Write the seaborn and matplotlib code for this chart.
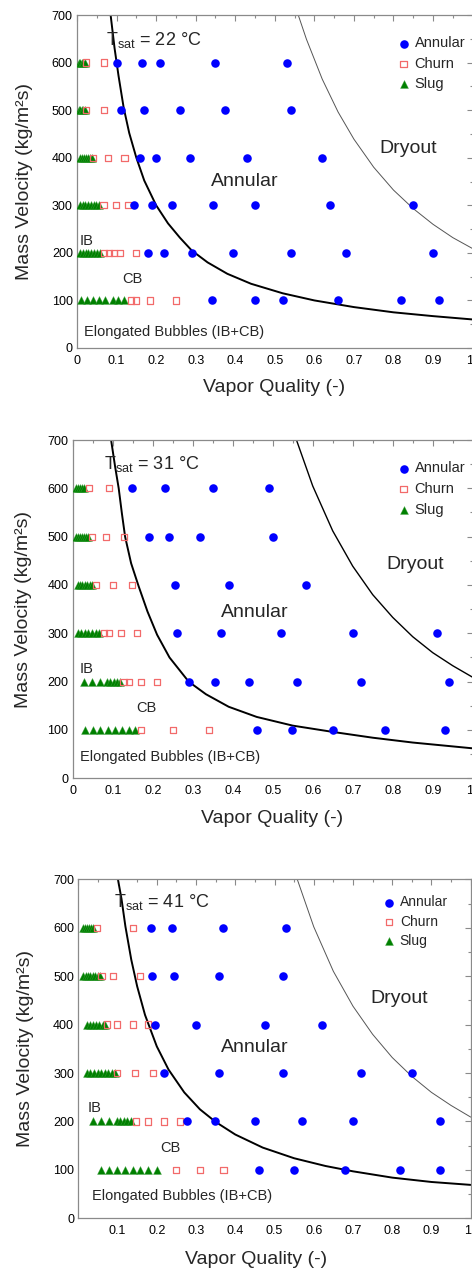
import numpy as np
import pandas as pd
import matplotlib
matplotlib.use("Agg")
import matplotlib.pyplot as plt
from matplotlib.ticker import MultipleLocator, FuncFormatter
import seaborn as sns

# ------------------------------------------------------------------ data
# Mass velocity rows (kg/m2s) -> vapor qualities of observed points
T22_ANNULAR = {600: [0.10, 0.165, 0.21, 0.35, 0.53],
               500: [0.11, 0.17, 0.26, 0.375, 0.54],
               400: [0.16, 0.199, 0.285, 0.43, 0.62],
               300: [0.145, 0.19, 0.24, 0.344, 0.45, 0.64, 0.85],
               200: [0.18, 0.22, 0.29, 0.395, 0.54, 0.68, 0.90],
               100: [0.34, 0.45, 0.52, 0.66, 0.82, 0.914]}
T22_CHURN = {600: [0.023, 0.069],
             500: [0.023, 0.069],
             400: [0.04, 0.079, 0.12],
             300: [0.067, 0.099, 0.129],
             200: [0.068, 0.08, 0.093, 0.108, 0.149],
             100: [0.136, 0.15, 0.185, 0.25]}
T22_SLUG = {600: [0.004, 0.008, 0.012, 0.016, 0.020],
            500: [0.004, 0.008, 0.012, 0.016, 0.020],
            400: [0.008, 0.013, 0.018, 0.023, 0.028, 0.033, 0.038],
            300: [0.007, 0.014, 0.021, 0.028, 0.035, 0.042, 0.049, 0.056],
            200: [0.008, 0.015, 0.022, 0.029, 0.036, 0.043, 0.050, 0.057],
            100: [0.011, 0.026, 0.041, 0.056, 0.072, 0.09, 0.104, 0.12]}
T22_ANN_X = [0.085, 0.095, 0.105, 0.118, 0.132, 0.15, 0.17, 0.2, 0.23, 0.26,
             0.29, 0.33, 0.38, 0.44, 0.52, 0.6, 0.7, 0.8, 0.9, 1.0]
T22_ANN_G = [700, 630, 572, 505, 452, 400, 352, 300, 262, 232,
             205, 180, 156, 135, 115, 100, 86, 75, 67, 60]
T22_DRY_X = [0.556, 0.58, 0.62, 0.66, 0.7, 0.75, 0.8, 0.85, 0.9, 0.95, 1.0]
T22_DRY_G = [708, 649, 565, 496, 439, 380, 332, 293, 260, 232, 209]

T31_ANNULAR = {600: [0.149, 0.23, 0.35, 0.491],
               500: [0.19, 0.24, 0.319, 0.501],
               400: [0.256, 0.39, 0.582],
               300: [0.26, 0.371, 0.521, 0.701, 0.911],
               200: [0.29, 0.355, 0.44, 0.56, 0.721, 0.94],
               100: [0.461, 0.549, 0.651, 0.78, 0.931]}
T31_CHURN = {600: [0.04, 0.091],
             500: [0.048, 0.084, 0.129],
             400: [0.059, 0.10, 0.149],
             300: [0.078, 0.091, 0.121, 0.16],
             200: [0.127, 0.14, 0.171, 0.21],
             100: [0.171, 0.25, 0.34]}
T31_SLUG = {600: [0.008, 0.013, 0.018, 0.023, 0.028],
            500: [0.008, 0.013, 0.018, 0.023, 0.028, 0.033, 0.038],
            400: [0.012, 0.018, 0.024, 0.030, 0.036, 0.042, 0.048],
            300: [0.012, 0.021, 0.030, 0.039, 0.048, 0.057, 0.066],
            200: [0.027, 0.048, 0.069, 0.086, 0.094, 0.102, 0.110, 0.118],
            100: [0.03, 0.05, 0.069, 0.088, 0.106, 0.123, 0.14, 0.156]}
T31_ANN_X = [0.096, 0.106, 0.115, 0.123, 0.131, 0.146, 0.165, 0.187, 0.211, 0.242,
             0.29, 0.333, 0.39, 0.46, 0.55, 0.65, 0.75, 0.85, 0.95, 1.0]
T31_ANN_G = [700, 645, 600, 548, 500, 445, 397, 345, 297, 250,
             200, 174, 148, 127, 109, 96, 84, 74, 66, 62]
T31_DRY_X = [0.559, 0.6, 0.65, 0.7, 0.75, 0.8, 0.85, 0.9, 0.95, 1.0]
T31_DRY_G = [701, 605, 512, 439, 380, 333, 293, 260, 233, 209]

T41_ANNULAR = {600: [0.184, 0.239, 0.369, 0.53],
               500: [0.189, 0.244, 0.359, 0.521],
               400: [0.195, 0.299, 0.476, 0.621],
               300: [0.218, 0.359, 0.521, 0.72, 0.851],
               200: [0.278, 0.349, 0.45, 0.571, 0.701, 0.922],
               100: [0.46, 0.55, 0.68, 0.821, 0.922]}
T41_CHURN = {600: [0.048, 0.139],
             500: [0.059, 0.088, 0.158],
             400: [0.073, 0.099, 0.139, 0.178],
             300: [0.099, 0.144, 0.19],
             200: [0.148, 0.178, 0.219, 0.259],
             100: [0.249, 0.31, 0.37]}
T41_SLUG = {600: [0.012, 0.017, 0.022, 0.027, 0.032, 0.037],
            500: [0.013, 0.019, 0.025, 0.031, 0.037, 0.043, 0.049, 0.055],
            400: [0.022, 0.030, 0.038, 0.046, 0.054, 0.062, 0.068],
            300: [0.022, 0.031, 0.040, 0.049, 0.058, 0.067, 0.076, 0.085, 0.094],
            200: [0.038, 0.059, 0.079, 0.098, 0.107, 0.116, 0.125, 0.134],
            100: [0.057, 0.077, 0.098, 0.118, 0.139, 0.158, 0.178, 0.20]}
T41_ANN_X = [0.101, 0.11, 0.12, 0.135, 0.15, 0.17, 0.2, 0.23, 0.27, 0.31,
             0.35, 0.4, 0.47, 0.55, 0.63, 0.7, 0.8, 0.9, 1.0]
T41_ANN_G = [700, 660, 603, 534, 479, 420, 355, 307, 260, 225,
             199, 173, 146, 124, 108, 97, 84, 75, 69]
T41_DRY_X = [0.558, 0.6, 0.65, 0.7, 0.75, 0.8, 0.85, 0.9, 0.95, 1.0]
T41_DRY_G = [700, 602, 510, 438, 380, 332, 293, 260, 233, 209]

TSAT_LABELS = ["22", "31", "41"]
X_TICKS = [0, 0.1, 0.2, 0.3, 0.4, 0.5, 0.6, 0.7, 0.8, 0.9, 1.0]
Y_TICKS = [0, 100, 200, 300, 400, 500, 600, 700]


def regime_frame(rows, regime):
    recs = [(x, g, regime) for g, xs in rows.items() for x in xs]
    return pd.DataFrame(recs, columns=["x", "G", "regime"])


# ------------------------------------------------------------------ style
sns.set_theme(style="white")
plt.rcParams["font.family"] = ["Liberation Sans", "DejaVu Sans"]
plt.rcParams["mathtext.fontset"] = "custom"
plt.rcParams["mathtext.rm"] = "Liberation Sans"
plt.rcParams["mathtext.it"] = "Liberation Sans:italic"

W, H = 472, 1270
fig = plt.figure(figsize=(W / 100, H / 100), dpi=100)
fig.patch.set_facecolor("white")

# panel layout in pixels: x0, x1 (data 0..1), y_top (700), y_bottom (0)
PANELS = [
    dict(px=(77.0, 472.6), py=(15.0, 348.0),
         ann=(T22_ANNULAR, T22_CHURN, T22_SLUG),
         ac=(T22_ANN_X, T22_ANN_G), dc=(T22_DRY_X, T22_DRY_G),
         dry_style=dict(color="#555555", lw=0.7),
         txt=dict(tsat=(0.074, 648), dry=(0.836, 419), ann=(0.423, 349),
                  ib=(0.007, 225), cb=(0.139, 144), eb=(0.017, 34)),
         leg=(0.807, 0.854), legfs=10.5, legsp=0.42,
         ylab_x=25, xlab_dy=40, xlab_cx=274, zero_label=True),
    dict(px=(72.7, 472.7), py=(440.0, 778.3),
         ann=(T31_ANNULAR, T31_CHURN, T31_SLUG),
         ac=(T31_ANN_X, T31_ANN_G), dc=(T31_DRY_X, T31_DRY_G),
         dry_style=dict(color="black", lw=1.0),
         txt=dict(tsat=(0.0775, 650), dry=(0.857, 442), ann=(0.455, 343),
                  ib=(0.0165, 226), cb=(0.184, 145), eb=(0.019, 45)),
         leg=(0.809, 0.855), legfs=10.5, legsp=0.45,
         ylab_x=23.5, xlab_dy=40, xlab_cx=272, zero_label=True),
    dict(px=(78.3, 470.7), py=(879.3, 1218.3),
         ann=(T41_ANNULAR, T41_CHURN, T41_SLUG),
         ac=(T41_ANN_X, T41_ANN_G), dc=(T41_DRY_X, T41_DRY_G),
         dry_style=dict(color="#555555", lw=0.7),
         txt=dict(tsat=(0.091, 654), dry=(0.819, 453), ann=(0.45, 353),
                  ib=(0.023, 227), cb=(0.234, 146), eb=(0.035, 46)),
         leg=(0.775, 0.875), legfs=10.0, legsp=0.38,
         ylab_x=26, xlab_dy=41, xlab_cx=256, zero_label=False),
]

SPINE = "#8a8a8a"


def fmt_x(v, pos, zero_label=True):
    if abs(v) < 1e-9:
        return "0" if zero_label else ""
    if abs(v - 1) < 1e-9:
        return "1"
    return f"{v:.1f}"


for p, tsat in zip(PANELS, TSAT_LABELS):
    x0, x1 = p["px"]
    yt, yb = p["py"]
    rect = [x0 / W, (H - yb) / H, (x1 - x0) / W, (yb - yt) / H]
    ax = fig.add_axes(rect)
    ax.set_facecolor("white")

    # transition curves
    sns.lineplot(x=p["ac"][0], y=p["ac"][1], ax=ax, sort=False, estimator=None,
                 color="black", lw=1.4, zorder=2)
    sns.lineplot(x=p["dc"][0], y=p["dc"][1], ax=ax, sort=False, estimator=None,
                 zorder=2, **p["dry_style"])

    ann, churn, slug = p["ann"]
    df_a = regime_frame(ann, "Annular")
    df_c = regime_frame(churn, "Churn")
    df_s = regime_frame(slug, "Slug")

    sns.scatterplot(data=df_s, x="x", y="G", ax=ax, marker="^", s=32,
                    color="#008000", edgecolor="#3a9f3a", linewidth=0.3,
                    label="Slug", zorder=3, legend=False)
    sns.scatterplot(data=df_c, x="x", y="G", ax=ax, marker="s", s=20,
                    facecolor="none", edgecolor="#f26a6a", linewidth=0.9,
                    label="Churn", zorder=4, legend=False)
    sns.scatterplot(data=df_a, x="x", y="G", ax=ax, marker="o", s=38,
                    color="#0000ff", edgecolor="#0000ff", linewidth=0,
                    label="Annular", zorder=5, legend=False)

    ax.set_xlim(0, 1)
    ax.set_ylim(0, 700)
    ax.set_xticks(X_TICKS)
    ax.set_yticks(Y_TICKS)
    ax.xaxis.set_minor_locator(MultipleLocator(0.05))
    ax.yaxis.set_minor_locator(MultipleLocator(50))
    zl = p["zero_label"]
    ax.xaxis.set_major_formatter(FuncFormatter(lambda v, pos, zl=zl: fmt_x(v, pos, zl)))
    ax.tick_params(which="both", direction="in", top=True, right=True,
                   color=SPINE, labelcolor="black", labelsize=9, width=0.8)
    ax.tick_params(which="major", length=4)
    ax.tick_params(which="minor", length=2.5)
    ax.tick_params(axis="x", pad=5)
    ax.tick_params(axis="y", pad=3)
    for sp in ax.spines.values():
        sp.set_color(SPINE)
        sp.set_linewidth(0.9)
        sp.set_visible(True)
    # keep the "1" label inside the picture
    fig.canvas.draw()
    for lab in ax.get_xticklabels():
        if lab.get_text() == "1":
            lab.set_horizontalalignment("right")

    w_px = x1 - x0
    h_px = yb - yt
    ax.set_xlabel("Vapor Quality (-)", fontsize=14, va="center")
    ax.xaxis.set_label_coords((p["xlab_cx"] - x0) / w_px, -p["xlab_dy"] / h_px)
    ax.set_ylabel("Mass Velocity (kg/m²s)", fontsize=14, va="center")
    ax.yaxis.set_label_coords((p["ylab_x"] - x0) / w_px, 0.5)

    t = p["txt"]
    ax.text(*t["tsat"], "T$_{\\mathrm{sat}}$ = " + tsat + " °C", fontsize=13,
            ha="left", va="center")
    ax.text(*t["dry"], "Dryout", fontsize=14, ha="center", va="center")
    ax.text(*t["ann"], "Annular", fontsize=14, ha="center", va="center")
    ax.text(*t["ib"], "IB", fontsize=10.5, ha="left", va="center")
    ax.text(*t["cb"], "CB", fontsize=10.5, ha="center", va="center")
    ax.text(*t["eb"], "Elongated Bubbles (IB+CB)", fontsize=10.5, ha="left", va="center")

    handles, labels = ax.get_legend_handles_labels()
    order = [labels.index(n) for n in ["Annular", "Churn", "Slug"]]
    ax.legend([handles[i] for i in order], [labels[i] for i in order],
              loc="center left", bbox_to_anchor=p["leg"], frameon=False,
              fontsize=p["legfs"], handlelength=1.0, handletextpad=0.25,
              labelspacing=p["legsp"], borderpad=0, borderaxespad=0,
              scatterpoints=1)

fig.savefig("out.png", dpi=100, facecolor="white")
